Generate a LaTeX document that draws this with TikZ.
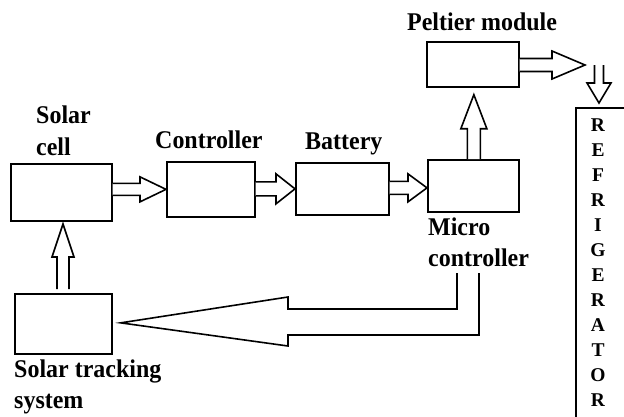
\documentclass[tikz,border=0pt]{standalone}
\usepackage{fontspec}
\setmainfont{Liberation Serif}
\newfontfamily\lblfont[FakeStretch=0.94]{Liberation Serif}
\usetikzlibrary{calc}
% horizontal block arrow: start, tip, shaft half width, head half width, head length
\newcommand\harr[5]{\draw[blk] let \p1=(#1), \p2=(#2) in
  (\x1,\y2+#3pt) -- (\x2-#5pt,\y2+#3pt) -- (\x2-#5pt,\y2+#4pt) -- (\x2,\y2)
  -- (\x2-#5pt,\y2-#4pt) -- (\x2-#5pt,\y2-#3pt) -- (\x1,\y2-#3pt);}
% upward block arrow
\newcommand\uarr[5]{\draw[blk] let \p1=(#1), \p2=(#2) in
  (\x2-#3pt,\y1) -- (\x2-#3pt,\y2-#5pt) -- (\x2-#4pt,\y2-#5pt) -- (\x2,\y2)
  -- (\x2+#4pt,\y2-#5pt) -- (\x2+#3pt,\y2-#5pt) -- (\x2+#3pt,\y1);}
% downward block arrow
\newcommand\darr[5]{\draw[blk] let \p1=(#1), \p2=(#2) in
  (\x2-#3pt,\y1) -- (\x2-#3pt,\y2+#5pt) -- (\x2-#4pt,\y2+#5pt) -- (\x2,\y2)
  -- (\x2+#4pt,\y2+#5pt) -- (\x2+#3pt,\y2+#5pt) -- (\x2+#3pt,\y1);}
\begin{document}
\begin{tikzpicture}[x=1pt,y=-1pt,
  box/.style={draw,line width=1.7pt,inner sep=0pt,anchor=north west},
  blk/.style={draw,fill=white,line width=1.6pt,line join=miter},
  lbl/.style={font=\lblfont\fontsize{25.5}{31.5}\selectfont\bfseries,inner sep=0pt,align=left,anchor=north west},
  vlbl/.style={font=\fontsize{19.5}{25}\selectfont\bfseries,inner sep=0pt,align=center,anchor=north}]
\useasboundingbox (0,0) rectangle (624,416);
\fill[white] (0,0) rectangle (624,416);
% boxes
\node[box,minimum width=101pt,minimum height=57pt] (solar) at (10,163) {};
\node[box,minimum width=88pt,minimum height=55pt] (ctrl) at (166,161) {};
\node[box,minimum width=93pt,minimum height=52pt] (batt) at (295,162) {};
\node[box,minimum width=91pt,minimum height=52pt] (micro) at (427,159) {};
\node[box,minimum width=92pt,minimum height=45pt] (peltier) at (426,41) {};
\node[box,minimum width=97pt,minimum height=60pt] (track) at (14,293) {};
\begin{scope}
\clip (0,0) rectangle (624,416);
\node[box,minimum width=60pt,minimum height=330pt] (fridge) at (575,107) {};
\end{scope}
% labels
\node[lbl] (lsolar) at (36,105.7) {Solar\\cell};
\node[lbl] (lctrl) at (155,130.7) {Controller};
\node[lbl] (lbatt) at (305,132.1) {Battery};
\node[lbl] (lpelt) at (407,12.7) {Peltier module};
\node[lbl] (lmicro) at (428,217.4) {Micro\\controller};
\node[lbl] (ltrack) at (14,359.4) {Solar tracking\\system};
\node[vlbl] (lfridge) at (598,119) {R\\E\\F\\R\\I\\G\\E\\R\\A\\T\\O\\R};
% connector points
\coordinate (ptip) at (585,65);
\coordinate (dstart) at (599,65);
\coordinate (dtip) at (599,103);
\coordinate (mtip) at ($(peltier.south)+(1,7)$);
\coordinate (tstart) at (63,289);
\coordinate (ttip) at (63,224);
\coordinate (bigA) at (457,273);
\coordinate (bigB) at (479,273);
\coordinate (bigtip) at ($(track.east)+(8,-1)$);
% block arrows
\harr{solar.east}{ctrl.west}{6}{12.5}{26}
\harr{ctrl.east}{batt.west}{7}{15}{19}
\harr{batt.east}{$(micro.west)+(0,2)$}{6.5}{14}{19}
\uarr{micro.north}{mtip}{6.5}{13}{34}
\harr{peltier.east}{ptip}{6.5}{14}{33}
\darr{dstart}{dtip}{4.5}{12}{20}
\uarr{tstart}{ttip}{6}{11}{33}
\draw[blk] (bigA) -- (457,309) -- (288,309) -- (288,297) -- (bigtip)
  -- (288,346) -- (288,335) -- (479,335) -- (bigB);
\end{tikzpicture}
\end{document}
